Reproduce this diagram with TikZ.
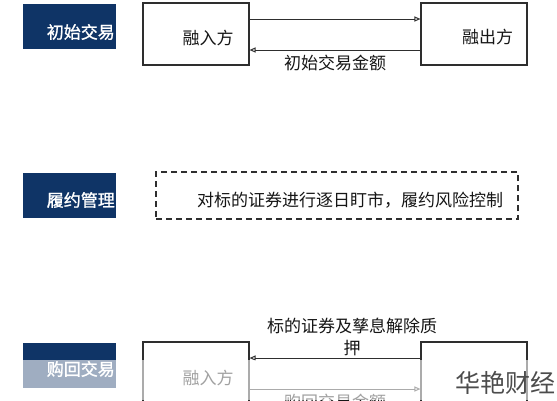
\documentclass[tikz,border=0pt]{standalone}
\usepackage{fontspec}
\newfontfamily\cjk{Noto Sans CJK SC}
\newfontfamily\cjkb[FakeBold=1.2]{Noto Sans CJK SC}
\usetikzlibrary{arrows.meta}
\definecolor{navy}{HTML}{0F3466}
\definecolor{ink}{HTML}{161616}
\definecolor{edge}{HTML}{2E2E2E}
\begin{document}
\begin{tikzpicture}[x=1pt,y=-1pt,
  txt/.style={font=\cjk\fontsize{17}{22}\selectfont, text=ink, inner sep=0pt},
  tag/.style={fill=navy, draw=none, minimum width=93pt, minimum height=45pt, inner sep=0pt},
  tagtext/.style={font=\cjkb\fontsize{17}{22}\selectfont, text=white, anchor=east, inner sep=0pt},
  party/.style={draw=edge, line width=1.1pt, minimum width=106pt, minimum height=62pt, inner sep=0pt},
  dbox/.style={draw=edge, line width=1.1pt, dash pattern=on 6pt off 4pt, minimum width=362pt, minimum height=47pt, inner sep=0pt},
  arr/.style={draw=edge, line width=1pt, -{Triangle[open,length=6pt,width=5pt]}},
  wmark/.style={font=\cjk\fontsize{25}{30}\selectfont, text=black!70, anchor=west, inner sep=0pt}
]
\clip (0,0) rectangle (557,400);
\fill[white] (0,0) rectangle (557,400);

% row 1: initial trade
\node[tag] (t1) at (69.5,26.5) {};
\node[tagtext] (t1t) at (115,32) {初始交易};
\node[party] (L1) at (196,34) {};
\node[party] (R1) at (474,34) {};
\node[txt] (L1t) at (208,38) {融入方};
\node[txt] (R1t) at (487.5,37) {融出方};
\draw[arr] ([yshift=15pt]L1.east) -- ([yshift=15pt]R1.west);
\draw[arr] ([yshift=-16pt]R1.west) -- ([yshift=-16pt]L1.east);
\node[txt] (a1) at (335,63) {初始交易金额};

% row 2: performance management
\node[tag] (t2) at (69.5,195.5) {};
\node[tagtext] (t2t) at (115,200) {履约管理};
\node[dbox] (D) at (337,195.5) {};
\node[txt] (Dt) at (350,200) {对标的证券进行逐日盯市，履约风险控制};

% row 3: repurchase trade
\node[tag] (t3) at (69.5,365) {};
\node[tagtext] (t3t) at (115,369) {购回交易};
\node[party] (L3) at (196,373) {};
\node[party] (R3) at (474,373) {};
\node[txt] (L3t) at (208,378) {融入方};
\draw[arr] ([yshift=15pt]R3.west) -- ([yshift=15pt]L3.east);
\draw[arr] ([yshift=-16pt]L3.east) -- ([yshift=-16pt]R3.west);
\node[txt, align=center] (a3) at (352,337) {标的证券及孳息解除质\\押};
\node[txt] (a4) at (335,402) {购回交易金额};

% faded lower strip and watermark
\fill[white, opacity=0.6] (0,360) rectangle (557,400);
\node[wmark] (wm) at (455,383) {华艳财经};
\end{tikzpicture}
\end{document}
